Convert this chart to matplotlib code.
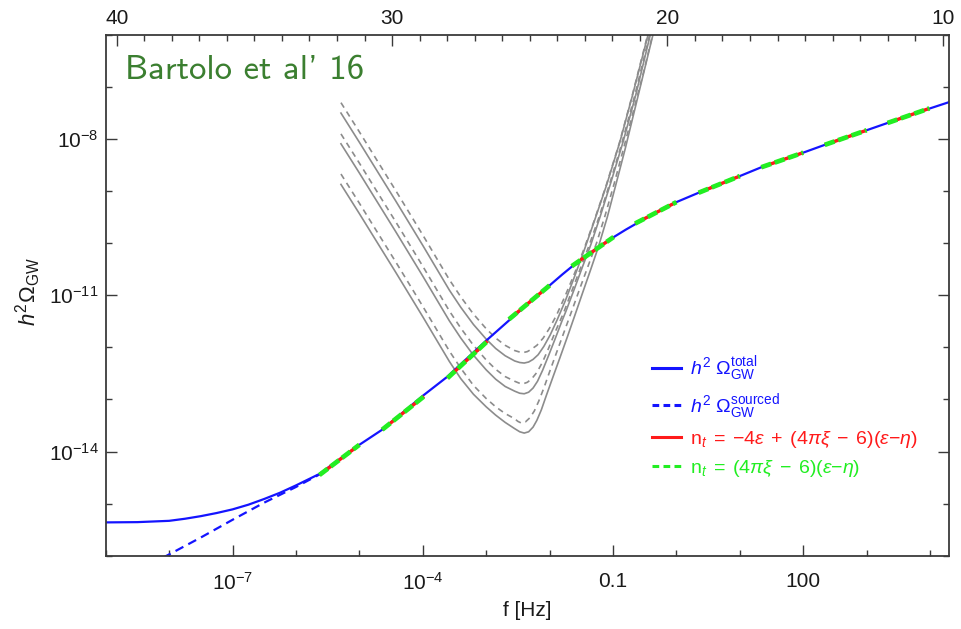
import os
import numpy as np
import matplotlib
matplotlib.use("Agg")
import matplotlib.pyplot as plt
from matplotlib.font_manager import FontProperties
from matplotlib.lines import Line2D

plt.rcParams['font.family'] = ['Liberation Sans', 'DejaVu Sans']
plt.rcParams['mathtext.fontset'] = 'custom'
plt.rcParams['mathtext.rm'] = 'Liberation Sans'
plt.rcParams['mathtext.it'] = 'Liberation Sans:italic'
plt.rcParams['mathtext.bf'] = 'Liberation Sans:bold'

# total h^2 Omega_GW  (log10 f, log10 Omega)
tot_logf = [-9.0, -8.5, -8.0, -7.75, -7.5, -7.25, -7.0, -6.75, -6.5, -6.25, -6.0,
            -5.63, -5.0, -4.64, -4.0, -3.62, -3.0, -2.61, -2.3, -2.0, -1.8, -1.6,
            -1.4, -1.2, -1.0, -0.8, -0.6, -0.4, -0.2, 0.0, 0.35, 0.7, 1.0, 1.34,
            2.0, 2.34, 3.0, 3.33, 4.0, 4.30]
tot_logom = [-15.36, -15.355, -15.33, -15.29, -15.24, -15.18, -15.11, -15.02, -14.91,
             -14.79, -14.65, -14.43, -13.87, -13.58, -12.93, -12.57, -11.87, -11.45,
             -11.12, -10.81, -10.60, -10.40, -10.22, -10.05, -9.89, -9.74, -9.60,
             -9.46, -9.33, -9.21, -9.03, -8.86, -8.71, -8.54, -8.26, -8.11, -7.83,
             -7.69, -7.41, -7.29]

# sourced part only (dashed blue), visible at low f
src_logf = [-8.1, -7.5, -7.0, -6.5, -6.0, -5.63, -5.0]
src_logom = [-16.04, -15.65, -15.31, -14.98, -14.68, -14.44, -13.88]

# local power-law pieces (red solid / green dashed)
seg_f0 = [-5.63, -4.64, -3.61, -2.64, -1.65, -0.65, 0.35, 1.34, 2.34, 3.33]
seg_f1 = [-5.00, -3.98, -2.98, -2.00, -0.99, 0.00, 1.00, 2.00, 3.00, 3.99]
seg_om0 = [-14.45, -13.58, -12.59, -11.46, -10.44, -9.62, -9.03, -8.54, -8.11, -7.69]
seg_om1 = [-13.87, -12.94, -11.88, -10.81, -9.88, -9.21, -8.71, -8.26, -7.83, -7.41]

# sensitivity curves (grey): dashed1, solid1, dashed2, solid2, dashed3, solid3
sens_logf = [
    [-5.29, -5.0, -4.7, -4.43, -4.2, -4.0, -3.8, -3.58, -3.4, -3.2, -3.0, -2.85, -2.7,
     -2.55, -2.47, -2.42, -2.35, -2.28, -2.2, -2.1, -2.0, -1.89, -1.75, -1.6, -1.46,
     -1.3, -1.11, -0.9, -0.7, -0.47, -0.40],
    [-5.29, -5.0, -4.7, -4.43, -4.2, -4.0, -3.8, -3.58, -3.4, -3.2, -3.0, -2.85, -2.7,
     -2.55, -2.47, -2.40, -2.33, -2.26, -2.18, -2.09, -1.99, -1.88, -1.75, -1.60, -1.45,
     -1.29, -1.10, -0.89, -0.69, -0.46, -0.39],
    [-5.29, -5.0, -4.7, -4.43, -4.2, -4.0, -3.8, -3.58, -3.4, -3.2, -3.0, -2.85, -2.7,
     -2.55, -2.47, -2.42, -2.35, -2.28, -2.20, -2.11, -2.02, -1.91, -1.78, -1.65, -1.51,
     -1.37, -1.22, -1.05, -0.86, -0.66, -0.43, -0.37],
    [-5.29, -5.0, -4.7, -4.43, -4.2, -4.0, -3.8, -3.58, -3.4, -3.2, -3.0, -2.85, -2.7,
     -2.55, -2.47, -2.40, -2.33, -2.26, -2.19, -2.11, -2.02, -1.92, -1.81, -1.74, -1.61,
     -1.48, -1.35, -1.20, -1.03, -0.84, -0.64, -0.42, -0.36],
    [-5.29, -5.0, -4.7, -4.43, -4.2, -4.0, -3.8, -3.58, -3.4, -3.2, -3.0, -2.85, -2.7,
     -2.55, -2.50, -2.45, -2.38, -2.31, -2.24, -2.17, -2.09, -2.00, -1.89, -1.77, -1.65,
     -1.52, -1.39, -1.26, -1.12, -0.98, -0.82, -0.66, -0.51, -0.38, -0.33],
    [-5.29, -5.0, -4.7, -4.43, -4.2, -4.0, -3.8, -3.58, -3.4, -3.2, -3.0, -2.85, -2.7,
     -2.55, -2.47, -2.40, -2.33, -2.26, -2.20, -2.13, -2.05, -1.95, -1.84, -1.72, -1.60,
     -1.47, -1.35, -1.23, -1.09, -0.96, -0.81, -0.67, -0.53, -0.37, -0.32],
]
sens_logom = [
    [-7.30, -7.86, -8.45, -8.98, -9.44, -9.84, -10.25, -10.70, -11.03, -11.36, -11.64,
     -11.82, -11.96, -12.06, -12.09, -12.10, -12.08, -12.03, -11.96, -11.82, -11.63,
     -11.38, -11.00, -10.56, -10.12, -9.58, -8.90, -8.08, -7.18, -6.08, -5.75],
    [-7.50, -8.06, -8.65, -9.18, -9.64, -10.04, -10.45, -10.90, -11.23, -11.56, -11.84,
     -12.02, -12.16, -12.26, -12.29, -12.30, -12.28, -12.23, -12.14, -11.98, -11.76,
     -11.47, -11.10, -10.62, -10.12, -9.56, -8.88, -8.05, -7.15, -6.06, -5.75],
    [-7.90, -8.46, -9.05, -9.58, -10.04, -10.44, -10.85, -11.30, -11.63, -11.96, -12.24,
     -12.42, -12.56, -12.65, -12.69, -12.70, -12.67, -12.60, -12.48, -12.28, -12.03,
     -11.70, -11.34, -10.92, -10.47, -10.02, -9.50, -8.85, -8.08, -7.18, -6.04, -5.75],
    [-8.09, -8.65, -9.24, -9.77, -10.23, -10.63, -11.04, -11.49, -11.82, -12.15, -12.43,
     -12.61, -12.75, -12.84, -12.88, -12.89, -12.86, -12.78, -12.65, -12.44, -12.17,
     -11.86, -11.51, -11.30, -10.88, -10.45, -10.03, -9.48, -8.82, -8.05, -7.15, -6.04,
     -5.75],
    [-8.67, -9.23, -9.82, -10.35, -10.81, -11.21, -11.62, -12.07, -12.40, -12.73, -12.98,
     -13.14, -13.27, -13.37, -13.42, -13.45, -13.43, -13.35, -13.22, -13.03, -12.78,
     -12.47, -12.10, -11.70, -11.30, -10.86, -10.43, -10.00, -9.45, -8.85, -8.12, -7.38,
     -6.68, -6.02, -5.75],
    [-8.87, -9.43, -10.02, -10.55, -11.01, -11.41, -11.82, -12.27, -12.60, -12.90, -13.14,
     -13.30, -13.44, -13.56, -13.62, -13.645, -13.62, -13.53, -13.40, -13.20, -12.92,
     -12.58, -12.21, -11.80, -11.38, -10.92, -10.50, -10.07, -9.50, -8.90, -8.20, -7.50,
     -6.80, -6.00, -5.75],
]
sens_style = ['--', '-', '--', '-', '--', '-']

xticks = [1e-7, 1e-4, 0.1, 100]
xticklabels = [r'$10^{-7}$', r'$10^{-4}$', '0.1', '100']
yticks = [1e-8, 1e-11, 1e-14]
yticklabels = [r'$10^{-8}$', r'$10^{-11}$', r'$10^{-14}$']
top_ticks = [40, 30, 20, 10]

labels = [r'$h^2\ \Omega_{\rm GW}^{\rm total}$',
          r'$h^2\ \Omega_{\rm GW}^{\rm sourced}$',
          r'$\mathrm{n}_t\;=\;{-}4\epsilon\;+\;(4\pi\xi\;-\;6)(\epsilon{-}\eta)$',
          r'$\mathrm{n}_t\;=\;(4\pi\xi\;-\;6)(\epsilon{-}\eta)$']

blue = '#1414ff'
red = '#ff1a1a'
green = '#22ee22'
grey = '#8c8c8c'
frame = '#3a3a3a'

fig = plt.figure(figsize=(9.62, 6.29), dpi=100)
ax = fig.add_axes([0.1099, 0.1165, 0.8766, 0.8279])
xmin, xmax = 1e-9, 10**4.30
ax.set_xscale('log')
ax.set_yscale('log')
ax.set_xlim(xmin, xmax)
ax.set_ylim(1e-16, 1e-6)

for lf, lo, ls in zip(sens_logf, sens_logom, sens_style):
    if ls == '--':
        ax.plot(10**np.array(lf), 10**np.array(lo), color=grey, lw=1.2,
                linestyle=(0, (3.5, 2.8)))
    else:
        ax.plot(10**np.array(lf), 10**np.array(lo), color=grey, lw=1.2)

ax.plot(10**np.array(src_logf), 10**np.array(src_logom), color=blue, lw=1.6,
        linestyle=(0, (4, 2.5)))
ax.plot(10**np.array(tot_logf), 10**np.array(tot_logom), color=blue, lw=1.6)

for a, b, c, d in zip(seg_f0, seg_f1, seg_om0, seg_om1):
    ax.plot([10**a, 10**b], [10**c, 10**d], color=red, lw=2.4,
            solid_capstyle='butt')
    ax.plot([10**a, 10**b], [10**c, 10**d], color=green, lw=3.4,
            linestyle=(0, (2.2, 0.8)), dash_capstyle='butt')

ax.set_xticks(xticks)
ax.set_xticklabels(xticklabels)
ax.set_xticks([10.0**k for k in range(-9, 5)], minor=True)
ax.set_xticklabels([], minor=True)
ax.set_yticks(yticks)
ax.set_yticklabels(yticklabels)
ax.set_yticks([10.0**k for k in range(-16, -5)], minor=True)
ax.set_yticklabels([], minor=True)
ax.tick_params(which='both', direction='in', colors=frame, labelcolor='#1a1a1a',
               labelsize=15, top=False, right=True)
ax.tick_params(which='major', length=8, width=1.0)
ax.tick_params(which='minor', length=4, width=1.0)
ax.tick_params(axis='x', pad=12)
ax.tick_params(axis='y', pad=5)
for s in ax.spines.values():
    s.set_color(frame)
    s.set_linewidth(1.3)

# top axis: e-folds, linear in ln f
def f_to_n(f):
    return 40 - np.log(10) * (np.log10(f) + 8.827)

ax2 = ax.twiny()
ax2.set_xlim(f_to_n(xmin), f_to_n(xmax))
ax2.set_xticks(top_ticks)
ax2.set_xticks(range(10, 41), minor=True)
ax2.tick_params(which='both', direction='in', colors=frame, labelcolor='#1a1a1a',
                labelsize=15, pad=5)
ax2.tick_params(which='major', length=8, width=1.0)
ax2.tick_params(which='minor', length=4, width=1.0)
for s in ax2.spines.values():
    s.set_visible(False)

handles = [Line2D([], [], color=blue, lw=2.2),
           Line2D([], [], color=blue, lw=2.2, linestyle=(0, (2.2, 1.4))),
           Line2D([], [], color=red, lw=2.2),
           Line2D([], [], color=green, lw=2.2, linestyle=(0, (2.2, 1.4)))]
leg = ax.legend(handles, labels, loc='upper left', bbox_to_anchor=(0.636, 0.405),
                frameon=False, fontsize=14, handlelength=1.5, handletextpad=0.45,
                labelspacing=0.42, borderpad=0)
for t, c in zip(leg.get_texts(), [blue, blue, red, green]):
    t.set_color(c)

cmss = FontProperties(fname=os.path.join(matplotlib.get_data_path(),
                                         'fonts', 'ttf', 'cmss10.ttf'), size=25)
fig.text(125 / 962, 1 - 79 / 629, "Bartolo et al' 16", color='#3b7f30',
         fontproperties=cmss, va='baseline', ha='left')

fig.text(28 / 962, 1 - 292 / 629, r'$h^2\Omega_{\rm GW}$', rotation=90,
         ha='center', va='center', fontsize=16, color='#1a1a1a')
fig.text(527 / 962, 1 - 610 / 629, 'f [Hz]', ha='center', va='center',
         fontsize=15, color='#1a1a1a')

fig.savefig('out.png', dpi=100)
